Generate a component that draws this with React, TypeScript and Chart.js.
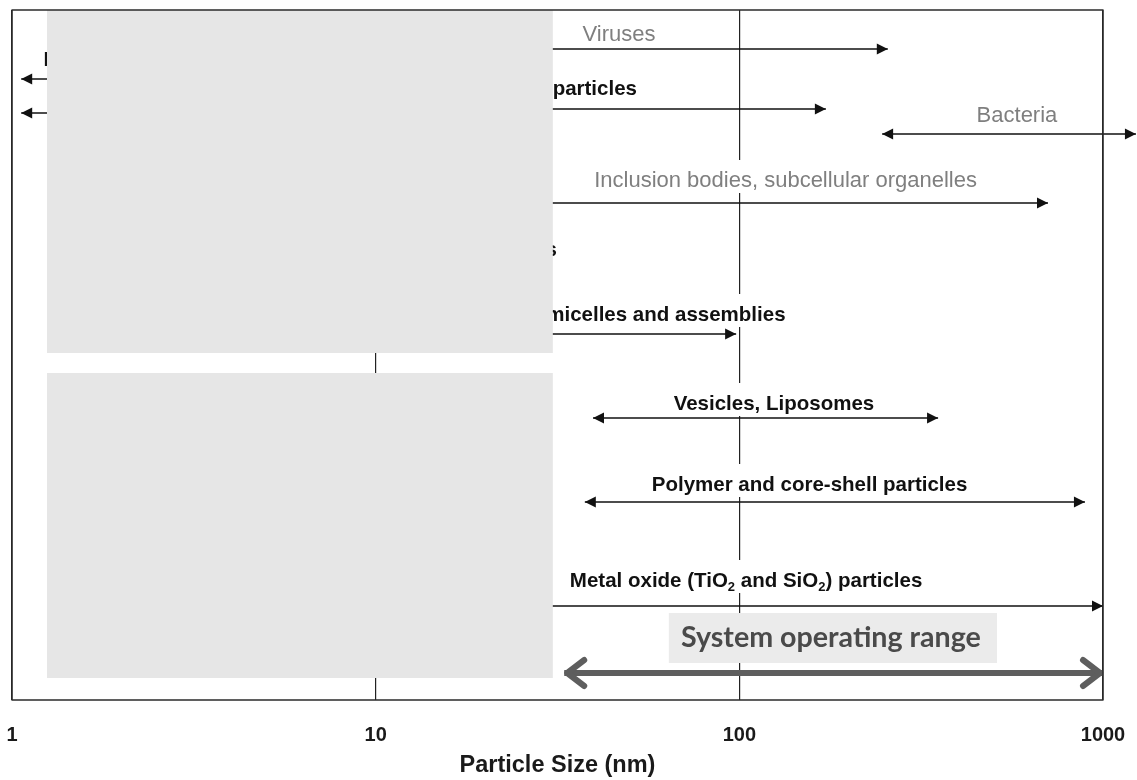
import React, { useEffect, useRef } from 'react';
import { Chart, registerables } from 'chart.js';

Chart.register(...registerables);

// ---- X axis (particle size, nm, logarithmic) ----
const xTicks = [1, 10, 100, 1000];
const xTitle = 'Particle Size (nm)';

// ---- Size-range arrows (x in nm, row = vertical slot on the hidden row axis) ----
const arrowNames = [
  'Viruses',
  'Hidden range A',
  'Hidden range B',
  'Nanoparticles',
  'Bacteria',
  'Inclusion bodies, subcellular organelles',
  'Micelles and assemblies',
  'Vesicles, Liposomes',
  'Polymer and core-shell particles',
  'Metal oxide particles',
  'System operating range',
];
const arrowFrom = [10, 1.06, 1.06, 10, 247, 10, 10, 39.6, 37.6, 10, 33];
const arrowTo = [256, 20, 20, 173, 1232, 706, 98, 352, 892, 1000, 1000];
const arrowRow = [3.9, 6.9, 10.3, 9.9, 12.4, 19.3, 32.4, 40.8, 49.2, 59.6, 66.3];
const headAtFrom = [false, true, true, false, true, false, false, true, true, false, true];
const headAtTo = [true, false, false, true, true, true, true, true, true, true, true];
const arrowKind = ['thin', 'thin', 'thin', 'thin', 'thin', 'thin', 'thin', 'thin', 'thin', 'thin', 'thick'];

// ---- Text labels ----
const labelTexts = [
  'Viruses',
  'Proteins',
  'Gold nanoparticles',
  'Bacteria',
  'Inclusion bodies, subcellular organelles',
  'Dendrimers',
  'Polymeric micelles and assemblies',
  'Vesicles, Liposomes',
  'Polymer and core-shell particles',
  'Metal oxide (TiO₂ and SiO₂) particles',
  'System operating range',
];
const labelX = [46.7, 1.22, 52.3, 580, 134, 31.5, 134, 124.5, 156, 34.2, 178.6];
const labelRow = [2.5, 5.0, 7.9, 10.6, 17.1, 24.0, 30.5, 39.4, 47.5, 57.1, 62.8];
const labelAlign = ['center', 'left', 'right', 'center', 'center', 'right', 'right', 'center', 'center', 'left', 'center'];
const labelTone = ['grey', 'black', 'black', 'grey', 'grey', 'black', 'black', 'black', 'black', 'black', 'system'];

// ---- Shaded panels ----
const systemBoxX = [64, 511];
const systemBoxRow = [60.3, 65.3];
const coverFromX = [1.248, 1.248];
const coverToX = [30.7, 30.7];
const coverTopRow = [0, 36.3];
const coverBottomRow = [34.3, 66.8];

const ARIAL = '"Liberation Sans", Arial, sans-serif';

function drawRich(ctx: CanvasRenderingContext2D, text: string, x: number, y: number, align: string, size: number, weight: string) {
  const parts = text.split('₂');
  const mainFont = `${weight} ${size}px ${ARIAL}`;
  const subFont = `${weight} ${Math.round(size * 0.65)}px ${ARIAL}`;
  let total = 0;
  const widths: number[] = [];
  parts.forEach((p, i) => {
    ctx.font = mainFont;
    const w = ctx.measureText(p).width;
    widths.push(w);
    total += w;
    if (i < parts.length - 1) {
      ctx.font = subFont;
      total += ctx.measureText('2').width;
    }
  });
  let start = x;
  if (align === 'center') start = x - total / 2;
  else if (align === 'right') start = x - total;
  ctx.textAlign = 'left';
  ctx.textBaseline = 'middle';
  let cx = start;
  parts.forEach((p, i) => {
    ctx.font = mainFont;
    ctx.fillText(p, cx, y);
    cx += widths[i];
    if (i < parts.length - 1) {
      ctx.font = subFont;
      ctx.fillText('2', cx, y + size * 0.3);
      cx += ctx.measureText('2').width;
    }
  });
  return { start, total };
}

const overlay = {
  id: 'overlay',
  afterDatasetsDraw(chart: any) {
    const { ctx, chartArea } = chart;
    const xs = chart.scales.x;
    const ys = chart.scales.y;
    ctx.save();

    // arrow heads
    chart.data.datasets.forEach((_ds: any, i: number) => {
      const meta = chart.getDatasetMeta(i);
      const a = meta.data[0];
      const b = meta.data[1];
      const ends: [any, number][] = [];
      if (headAtFrom[i]) ends.push([a, -1]);
      if (headAtTo[i]) ends.push([b, 1]);
      ends.forEach(([p, dir]) => {
        if (arrowKind[i] === 'thick') {
          const tx = p.x - dir * 3;
          ctx.strokeStyle = '#5e5e5e';
          ctx.lineWidth = 6;
          ctx.lineCap = 'round';
          ctx.lineJoin = 'round';
          ctx.beginPath();
          ctx.moveTo(tx - dir * 17, p.y - 13);
          ctx.lineTo(tx, p.y);
          ctx.lineTo(tx - dir * 17, p.y + 13);
          ctx.stroke();
        } else {
          ctx.fillStyle = '#111';
          ctx.beginPath();
          ctx.moveTo(p.x, p.y);
          ctx.lineTo(p.x - dir * 11, p.y - 5.5);
          ctx.lineTo(p.x - dir * 11, p.y + 5.5);
          ctx.closePath();
          ctx.fill();
        }
      });
    });

    // system operating range panel
    const sx0 = xs.getPixelForValue(systemBoxX[0]);
    const sx1 = xs.getPixelForValue(systemBoxX[1]);
    const sy0 = ys.getPixelForValue(systemBoxRow[0]);
    const sy1 = ys.getPixelForValue(systemBoxRow[1]);
    ctx.fillStyle = '#ebebeb';
    ctx.fillRect(sx0, sy0, sx1 - sx0, sy1 - sy0);

    // labels
    const probe = document.createElement('canvas').getContext('2d') as CanvasRenderingContext2D;
    labelTexts.forEach((t, i) => {
      const px = xs.getPixelForValue(labelX[i]);
      const py = ys.getPixelForValue(labelRow[i]);
      const tone = labelTone[i];
      if (tone === 'system') {
        ctx.font = `bold 26px Lato, "Open Sans", sans-serif`;
        const w26 = ctx.measureText(t).width;
        const size = (26 * 300) / w26;
        ctx.font = `bold ${size.toFixed(2)}px Lato, "Open Sans", sans-serif`;
        ctx.fillStyle = '#4a4a4a';
        ctx.textAlign = 'center';
        ctx.textBaseline = 'middle';
        ctx.fillText(t, px, py);
        return;
      }
      const size = tone === 'grey' ? 22 : 20.5;
      const weight = tone === 'grey' ? 'normal' : 'bold';
      const m = drawRich(probe, t, px, py, labelAlign[i], size, weight);
      ctx.fillStyle = '#fff';
      ctx.fillRect(m.start - 5, py - 21, m.total + 10, 33);
      ctx.fillStyle = tone === 'grey' ? '#7f7f7f' : '#111';
      drawRich(ctx, t, px, py, labelAlign[i], size, weight);
    });

    // shaded cover panels
    ctx.fillStyle = 'rgb(230,230,230)';
    coverFromX.forEach((_v, i) => {
      const x0 = xs.getPixelForValue(coverFromX[i]);
      const x1 = xs.getPixelForValue(coverToX[i]);
      const y0 = ys.getPixelForValue(coverTopRow[i]);
      const y1 = ys.getPixelForValue(coverBottomRow[i]);
      ctx.fillRect(x0, y0, x1 - x0, y1 - y0);
    });

    // frame
    ctx.strokeStyle = '#2b2b2b';
    ctx.lineWidth = 1.5;
    ctx.strokeRect(chartArea.left, chartArea.top, chartArea.right - chartArea.left, chartArea.bottom - chartArea.top);
    ctx.restore();
  },
};

export default function App() {
  const ref = useRef<HTMLCanvasElement>(null);
  useEffect(() => {
    document.body.style.margin = '0';
    const canvas = ref.current as HTMLCanvasElement;
    const chart = new Chart(canvas, {
      type: 'scatter',
      data: {
        datasets: arrowNames.map((name, i) => ({
          label: name,
          data: [
            { x: arrowFrom[i], y: arrowRow[i] },
            { x: arrowTo[i], y: arrowRow[i] },
          ],
          showLine: true,
          borderColor: arrowKind[i] === 'thick' ? '#5e5e5e' : '#111',
          borderWidth: arrowKind[i] === 'thick' ? 6 : 1.6,
          pointRadius: 0,
          pointHoverRadius: 0,
          clip: false as any,
        })),
      },
      options: {
        animation: false,
        responsive: false,
        maintainAspectRatio: false,
        events: [],
        layout: { padding: { left: 12, right: 34, top: 10, bottom: 0 } },
        plugins: { legend: { display: false }, tooltip: { enabled: false } },
        scales: {
          x: {
            type: 'logarithmic',
            min: 1,
            max: 1000,
            afterBuildTicks: (axis: any) => {
              axis.ticks = xTicks.map((v) => ({ value: v }));
            },
            afterFit: (axis: any) => {
              axis.height = 80;
              axis.paddingLeft = 0;
              axis.paddingRight = 0;
            },
            ticks: {
              autoSkip: false,
              maxRotation: 0,
              padding: 23,
              color: '#1a1a1a',
              font: { family: ARIAL, size: 20, weight: 'bold' },
              callback: (v: any) => String(v),
            },
            grid: { display: true, drawTicks: false, color: '#222', lineWidth: 1.2 },
            border: { display: false },
            title: {
              display: true,
              text: xTitle,
              color: '#1a1a1a',
              font: { family: ARIAL, size: 23.5, weight: 'bold' },
              padding: { top: 0, bottom: 0 },
            },
          },
          y: { type: 'linear', min: 0, max: 69, reverse: true, display: false },
        },
      },
      plugins: [overlay],
    } as any);
    return () => chart.destroy();
  }, []);
  return (
    <div style={{ width: 1137, height: 780, background: '#fff' }}>
      <canvas ref={ref} width={1137} height={780} style={{ display: 'block', width: 1137, height: 780 }} />
    </div>
  );
}
